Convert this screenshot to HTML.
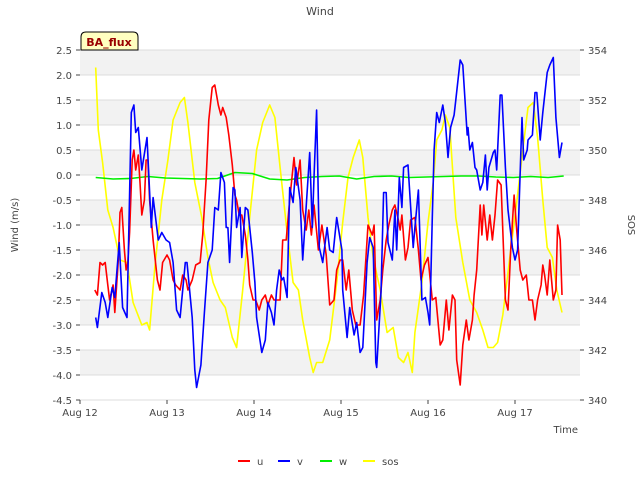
<!DOCTYPE html>
<html><head><meta charset="utf-8"><style>
body{margin:0;background:#fff;font-family:"Liberation Sans","DejaVu Sans",sans-serif}
svg text{font-family:"DejaVu Sans","Liberation Sans",sans-serif;font-size:10px;fill:#444}
</style></head><body>
<svg id="c" width="640" height="480"></svg>
<script>
const uT=[.17,.20,.23,.26,.29,.32,.34,.38,.40,.44,.46,.48,.51,.53,.55,.57,.60,.62,.64,.67,.69,.71,.74,.76,.78,.80,.84,.89,.92,.95,1.00,1.03,1.07,1.10,1.15,1.18,1.22,1.24,1.29,1.33,1.38,1.41,1.45,1.48,1.52,1.55,1.59,1.62,1.64,1.68,1.71,1.75,1.78,1.80,1.83,1.86,1.90,1.93,1.95,1.99,2.02,2.06,2.09,2.13,2.16,2.20,2.23,2.26,2.30,2.33,2.37,2.41,2.46,2.49,2.53,2.56,2.60,2.63,2.66,2.69,2.74,2.78,2.83,2.87,2.92,2.95,2.99,3.02,3.06,3.09,3.13,3.17,3.22,3.26,3.31,3.36,3.38,3.41,3.45,3.48,3.52,3.55,3.59,3.62,3.66,3.68,3.70,3.74,3.77,3.80,3.85,3.89,3.92,3.96,4.00,4.05,4.09,4.14,4.17,4.21,4.24,4.28,4.31,4.33,4.37,4.40,4.44,4.47,4.51,4.53,4.56,4.60,4.62,4.64,4.68,4.71,4.74,4.77,4.80,4.84,4.89,4.92,4.95,4.99,5.02,5.06,5.09,5.13,5.16,5.20,5.23,5.26,5.30,5.32,5.34,5.37,5.40,5.44,5.47,5.49,5.52,5.54];
const uV=[-2.3,-2.4,-1.75,-1.8,-1.75,-2.2,-2.5,-2.2,-2.75,-1.7,-0.75,-0.65,-1.5,-1.9,-1.75,-1.15,0.3,0.5,0.1,0.4,-0.15,-0.8,-0.5,0.3,0.3,-0.5,-1.3,-2.1,-2.3,-1.75,-1.6,-1.7,-2.1,-2.2,-2.3,-2.0,-2.1,-2.3,-2.1,-1.8,-1.75,-1.2,-0.1,1.1,1.75,1.8,1.4,1.2,1.35,1.15,0.8,0.2,-0.4,-0.5,-0.8,-0.8,-1.2,-1.7,-2.2,-2.5,-2.5,-2.7,-2.5,-2.4,-2.6,-2.4,-2.5,-2.5,-2.5,-1.3,-1.3,-0.5,0.35,-0.2,0.3,-0.7,-1.1,-0.7,-1.2,-0.6,-1.5,-1.0,-1.6,-2.6,-2.5,-1.9,-1.7,-1.7,-2.3,-1.9,-2.7,-3.0,-3.0,-2.4,-1.0,-1.2,-1.0,-2.9,-2.5,-1.9,-1.3,-1.0,-0.7,-0.6,-0.9,-1.1,-0.8,-1.7,-1.45,-0.9,-0.85,-1.5,-2.1,-1.8,-1.65,-2.5,-2.45,-3.4,-3.3,-2.5,-3.1,-2.4,-2.5,-3.7,-4.2,-3.4,-2.9,-3.3,-2.9,-2.4,-1.9,-0.6,-1.2,-0.6,-1.3,-0.8,-1.3,-0.8,-0.1,-0.2,-2.5,-2.7,-1.5,-0.4,-1.1,-1.9,-2.1,-2.0,-2.5,-2.5,-2.9,-2.5,-2.2,-1.8,-2.0,-2.4,-1.7,-2.5,-2.3,-1.0,-1.3,-2.4];
const vT=[.18,.20,.25,.29,.32,.37,.40,.45,.49,.54,.59,.62,.64,.67,.71,.77,.82,.84,.90,.94,.99,1.03,1.07,1.11,1.15,1.21,1.23,1.29,1.32,1.34,1.39,1.43,1.47,1.52,1.55,1.59,1.62,1.66,1.68,1.70,1.72,1.76,1.78,1.80,1.84,1.86,1.90,1.93,1.98,2.01,2.03,2.09,2.13,2.16,2.20,2.23,2.26,2.29,2.32,2.34,2.38,2.41,2.45,2.48,2.53,2.56,2.61,2.64,2.67,2.69,2.72,2.75,2.79,2.84,2.87,2.91,2.95,3.01,3.02,3.07,3.10,3.15,3.18,3.22,3.25,3.30,3.33,3.37,3.40,3.41,3.46,3.49,3.52,3.54,3.59,3.62,3.64,3.67,3.70,3.72,3.77,3.83,3.85,3.89,3.93,3.97,4.00,4.02,4.05,4.07,4.10,4.13,4.17,4.20,4.23,4.26,4.30,4.32,4.37,4.40,4.45,4.46,4.48,4.51,4.54,4.56,4.60,4.63,4.66,4.68,4.70,4.75,4.77,4.79,4.83,4.85,4.89,4.92,4.97,5.00,5.03,5.08,5.10,5.14,5.15,5.20,5.23,5.25,5.29,5.32,5.37,5.40,5.44,5.47,5.51,5.54];
const vV=[-2.85,-3.05,-2.35,-2.55,-2.85,-2.25,-2.45,-1.35,-2.65,-2.85,1.25,1.4,0.85,0.95,0.1,0.75,-1.05,-0.45,-1.3,-1.15,-1.3,-1.35,-1.75,-2.7,-2.85,-1.75,-1.75,-2.85,-3.9,-4.25,-3.8,-2.75,-1.75,-1.5,-0.65,-0.7,0.05,-0.15,-1.05,-1.05,-1.75,-0.25,-0.3,-1.05,-0.65,-1.65,-0.65,-0.7,-1.55,-2.15,-2.85,-3.55,-3.3,-2.55,-2.75,-3.0,-2.3,-1.9,-2.1,-2.05,-2.45,-0.25,-0.55,0.15,-0.5,-1.7,-0.35,0.45,-1.05,-0.05,1.3,-1.45,-1.75,-1.05,-1.5,-1.55,-0.85,-1.5,-2.3,-3.25,-2.65,-3.2,-2.95,-3.55,-3.45,-1.75,-1.25,-1.45,-3.75,-3.85,-2.35,-0.35,-0.35,-1.35,-1.7,-0.7,-1.5,-0.05,-0.65,0.15,0.2,-1.45,-1.05,-0.3,-2.5,-2.45,-2.75,-3.0,-0.85,0.5,1.25,1.05,1.4,1.05,0.35,0.95,1.2,1.5,2.3,2.2,0.8,0.95,0.5,0.65,0.15,0.1,-0.3,-0.15,0.4,-0.3,0.15,0.45,0.5,0.1,1.6,1.6,0.15,-0.7,-1.45,-1.7,-1.5,1.15,0.3,0.5,0.7,0.8,1.65,1.65,0.7,1.25,2.05,2.2,2.35,1.15,0.35,0.65];
const wT=[.18,.38,.58,.78,.98,1.18,1.38,1.58,1.78,1.98,2.18,2.38,2.58,2.78,2.98,3.18,3.38,3.58,3.78,3.98,4.18,4.38,4.58,4.78,4.98,5.18,5.38,5.56];
const wV=[-0.05,-0.08,-0.07,-0.03,-0.06,-0.07,-0.08,-0.07,0.05,0.03,-0.08,-0.1,-0.05,-0.03,-0.02,-0.08,-0.03,-0.02,-0.05,-0.04,-0.03,-0.02,-0.02,-0.04,-0.05,-0.03,-0.05,-0.02];
const sT=[.18,.21,.26,.32,.38,.46,.54,.61,.71,.77,.80,.86,.94,1.01,1.07,1.15,1.20,1.24,1.32,1.40,1.47,1.53,1.61,1.67,1.75,1.80,1.87,1.95,2.03,2.10,2.18,2.24,2.30,2.38,2.45,2.51,2.56,2.64,2.68,2.72,2.79,2.87,2.95,3.02,3.08,3.14,3.21,3.25,3.31,3.37,3.45,3.53,3.60,3.66,3.72,3.77,3.82,3.85,3.93,4.00,4.06,4.10,4.16,4.20,4.25,4.32,4.40,4.48,4.56,4.63,4.69,4.75,4.80,4.86,4.94,5.02,5.09,5.15,5.21,5.26,5.32,5.37,5.43,5.48,5.54];
const sV=[353.3,350.8,349.5,347.6,346.9,345.6,345.5,343.9,343.0,343.1,342.8,345.3,348.0,349.6,351.2,351.9,352.1,351.1,348.7,347.3,345.7,344.7,344.0,343.7,342.5,342.1,344.4,347.3,350.0,351.1,351.8,351.3,349.3,346.7,344.7,344.4,343.2,341.7,341.1,341.5,341.5,342.4,344.7,347.1,348.9,349.7,350.4,349.7,347.3,345.7,344.4,342.7,342.9,341.7,341.5,341.9,341.1,342.7,344.7,347.1,348.7,350.4,350.8,351.4,350.9,347.3,345.5,344.0,343.5,342.8,342.1,342.1,342.3,343.4,345.7,347.9,350.0,351.7,351.9,350.5,348.0,346.1,345.7,344.4,343.5];
const xTicks=["Aug 12","Aug 13","Aug 14","Aug 15","Aug 16","Aug 17"];
const yTicks=[2.5,2.0,1.5,1.0,0.5,0.0,-0.5,-1.0,-1.5,-2.0,-2.5,-3.0,-3.5,-4.0,-4.5];
const y2Ticks=[340,342,344,346,348,350,352,354];

const NS="http://www.w3.org/2000/svg",svg=document.getElementById('c');
const L=80,R=580,T=50,B=400;
const X=d=>L+d*87, Y=v=>T+(2.5-v)*50, Y2=v=>T+(354-v)*25;
function el(t,a,p){const e=document.createElementNS(NS,t);for(const k in a)e.setAttribute(k,a[k]);(p||svg).appendChild(e);return e;}
function txt(s,a){const e=el('text',a);e.textContent=s;return e;}
for(let i=0;i<14;i+=2){const r=el('rect',{x:L,y:Y(2.5-i*0.5),width:R-L,height:25,fill:'#f2f2f2'});

}
yTicks.forEach(v=>{const g=el('line',{x1:L,x2:R,y1:Y(v),y2:Y(v),stroke:'#dcdcdc','stroke-width':1});


el('line',{x1:L-4,x2:L,y1:Y(v),y2:Y(v),stroke:'#444'});
const t=txt(v.toFixed(1),{x:L-8,y:Y(v)+4,'text-anchor':'end'});

});
y2Ticks.forEach(v=>{el('line',{x1:R,x2:R+4,y1:Y2(v),y2:Y2(v),stroke:'#444'});
const t=txt(String(v),{x:R+8,y:Y2(v)+4});

});
xTicks.forEach((s,i)=>{el('line',{x1:X(i),x2:X(i),y1:B,y2:B+4,stroke:'#444'});
const t=txt(s,{x:X(i),y:B+16,'text-anchor':'middle'});

});
function line(ts,vs,f,col,name){const n=Math.min(ts.length,vs.length);let d='';
for(let i=0;i<n;i++)d+=(i?'L':'M')+X(ts[i]).toFixed(1)+','+f(vs[i]).toFixed(1);
const p=el('path',{d:d,fill:'none',stroke:col,'stroke-width':1.6,'stroke-linejoin':'round'});

}
line(sT,sV,Y2,'#ffff00','sos-line');
line(wT,wV,Y,'#00ee00','w-line');
line(uT,uV,Y,'#ff0000','u-line');
line(vT,vV,Y,'#0000ff','v-line');
let t=txt('Wind',{x:320,y:15,'text-anchor':'middle',style:'font-size:11px'});
t=txt('Wind (m/s)',{x:18,y:225,'text-anchor':'middle',transform:'rotate(-90 18 225)'});
t=txt('SOS',{x:628,y:225,'text-anchor':'middle',transform:'rotate(90 628 225)'});
t=txt('Time',{x:578,y:433,'text-anchor':'end'});
const bx=el('path',{d:'M81,50 L81,37 Q81,32 86,32 L133,32 Q138,32 138,37 L138,50 Z',fill:'#ffffc0',stroke:'#000','stroke-width':1});

t=txt('BA_flux',{x:109,y:46,'text-anchor':'middle','font-weight':'bold',style:'fill:#990000;font-size:11px'});
[['u','#ff0000',238],['v','#0000ff',278],['w','#00ee00',320],['sos','#ffff00',363]].forEach(([n,c,x])=>{
const g=el('g',{});
el('line',{x1:x,x2:x+12,y1:461,y2:461,stroke:c,'stroke-width':2},g);
const tt=el('text',{x:x+19,y:465},g);tt.textContent=n;});
</script>
</body></html>
